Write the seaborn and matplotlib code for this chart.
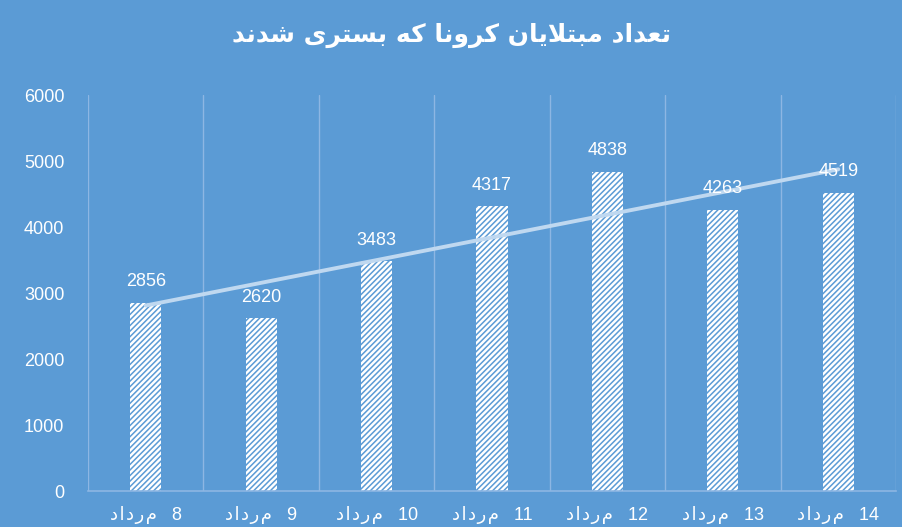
"""Hospitalised Corona cases per day (Mordad), bar chart with linear trend."""
import matplotlib

matplotlib.use("Agg")
import matplotlib.pyplot as plt
import numpy as np
import seaborn as sns

BG = "#5B9BD5"
GRID = "#8DB6E3"
TREND = "#BFD8F0"

TITLE = "تعداد مبتلایان کرونا که بستری شدند"
MONTH = "مرداد"
DAYS = [8, 9, 10, 11, 12, 13, 14]
VALUES = [2856, 2620, 3483, 4317, 4838, 4263, 4519]
Y_TICKS = [0, 1000, 2000, 3000, 4000, 5000, 6000]

# presentation forms: isolated, final, initial, medial
FORMS = {
    "ا": ("\uFE8D", "\uFE8E", None, None),
    "ب": ("\uFE8F", "\uFE90", "\uFE91", "\uFE92"),
    "ت": ("\uFE95", "\uFE96", "\uFE97", "\uFE98"),
    "د": ("\uFEA9", "\uFEAA", None, None),
    "ر": ("\uFEAD", "\uFEAE", None, None),
    "س": ("\uFEB1", "\uFEB2", "\uFEB3", "\uFEB4"),
    "ش": ("\uFEB5", "\uFEB6", "\uFEB7", "\uFEB8"),
    "ع": ("\uFEC9", "\uFECA", "\uFECB", "\uFECC"),
    "ک": ("\uFB8E", "\uFB8F", "\uFB90", "\uFB91"),
    "ل": ("\uFEDD", "\uFEDE", "\uFEDF", "\uFEE0"),
    "م": ("\uFEE1", "\uFEE2", "\uFEE3", "\uFEE4"),
    "ن": ("\uFEE5", "\uFEE6", "\uFEE7", "\uFEE8"),
    "ه": ("\uFEE9", "\uFEEA", "\uFEEB", "\uFEEC"),
    "و": ("\uFEED", "\uFEEE", None, None),
    "ی": ("\uFBFC", "\uFBFD", "\uFBFE", "\uFBFF"),
    "لا": ("\uFEFB", "\uFEFC", None, None),
}


def shape_word(word, join=True):
    units = []
    i = 0
    while i < len(word):
        if join and word[i:i + 2] == "لا":
            units.append("لا")
            i += 2
        else:
            units.append(word[i])
            i += 1
    out = []
    for k, u in enumerate(units):
        f = FORMS.get(u)
        if f is None:
            out.append(u)
            continue
        prev = FORMS.get(units[k - 1]) if k > 0 else None
        nxt = FORMS.get(units[k + 1]) if k + 1 < len(units) else None
        jp = join and prev is not None and prev[2] is not None
        jn = join and nxt is not None and f[2] is not None
        if jp and jn:
            out.append(f[3])
        elif jp:
            out.append(f[1])
        elif jn:
            out.append(f[2])
        else:
            out.append(f[0])
    return out


def rtl(text):
    words = text.split(" ")
    return " ".join("".join(shape_word(w)[::-1]) for w in words[::-1])


def day_label(day):
    month = "\u200a".join(shape_word(MONTH, join=False)[::-1])
    return f"{month}   {day}"


sns.set_theme(style="white")
plt.rcParams["font.family"] = ["Liberation Sans", "DejaVu Sans"]
plt.rcParams["hatch.color"] = BG
plt.rcParams["hatch.linewidth"] = 1.1

fig = plt.figure(figsize=(9.02, 5.27), dpi=100, facecolor=BG)
ax = fig.add_axes([0.0976, 0.0683, 0.8958, 0.7514])
ax.set_facecolor(BG)

labels = [day_label(d) for d in DAYS]
sns.barplot(x=labels, y=VALUES, ax=ax, color="white", width=0.27,
            edgecolor=BG, linewidth=0, zorder=2)
for bar in ax.patches:
    bar.set_hatch("//////")
    bar.set_edgecolor(BG)
    bar.set_linewidth(0)

for t in ax.bar_label(ax.containers[0], padding=9, color="white", fontsize=13):
    t.set_zorder(5)

sns.regplot(x=np.arange(len(VALUES)), y=VALUES, ax=ax, scatter=False, ci=None,
            truncate=True, line_kws={"color": TREND, "linewidth": 2.8, "zorder": 3})

ax.set_xlim(-0.5, len(VALUES) - 0.5)
ax.set_ylim(0, 6000)
ax.set_yticks(Y_TICKS)
ax.set_xticks(np.arange(-0.5, len(VALUES)), minor=True)
ax.grid(which="minor", axis="x", color=GRID, linewidth=1)
ax.grid(which="major", visible=False)
ax.set_axisbelow(True)
for side in ["left", "right", "top"]:
    ax.spines[side].set_visible(False)
ax.spines["bottom"].set_color(GRID)
ax.spines["bottom"].set_linewidth(1.2)
ax.tick_params(axis="both", which="both", length=0, colors="white", labelsize=13)
ax.tick_params(axis="y", pad=17)
ax.tick_params(axis="x", pad=11)
ax.set_xlabel("")
ax.set_ylabel("")

fig.text(0.5, 0.933, rtl(TITLE), ha="center", va="center", color="white",
         fontsize=18, fontweight="bold", family=["DejaVu Sans"])

fig.savefig("out.png", dpi=100, facecolor=BG)
